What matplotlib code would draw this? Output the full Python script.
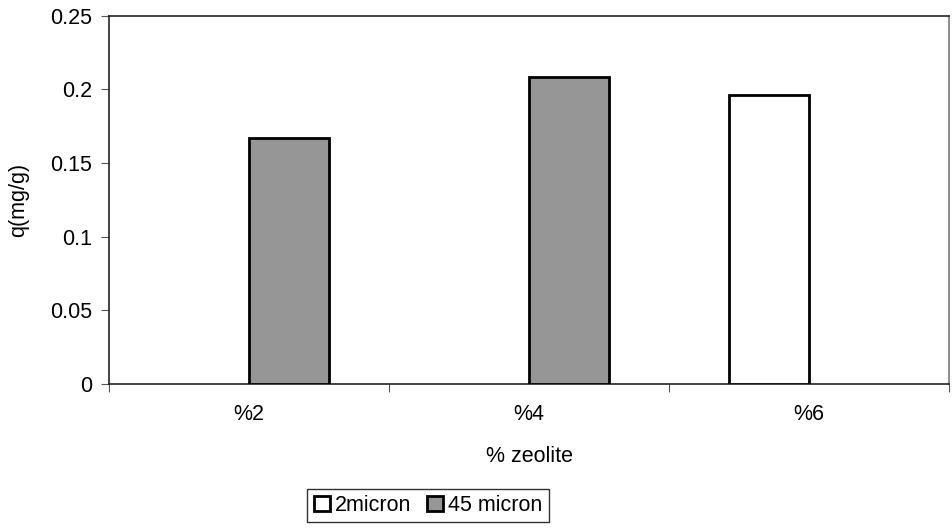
import numpy as np
import matplotlib.pyplot as plt
from matplotlib.patches import Patch

plt.rcParams['font.family'] = ['Liberation Sans', 'DejaVu Sans']

# 데이터
categories = ['%2', '%4', '%6']
series_names = ['2micron', '45 micron']
q_2micron = [0, 0, 0.1963]
q_45micron = [0.1668, 0.2087, 0]
series_colors = ['white', '#969696']

FS = 15.5

fig = plt.figure(figsize=(9.53, 5.29), dpi=100)
ax = fig.add_axes([0.1144, 0.275, 0.8814, 0.6948])

x = np.arange(len(categories))
w = 80 / 280  # 막대 폭 (gap width 150%)

for vals, off, col in [(q_2micron, -w / 2, series_colors[0]),
                       (q_45micron, w / 2, series_colors[1])]:
    xs = [xi + off for xi, v in zip(x, vals) if v > 0]
    hs = [v for v in vals if v > 0]
    ax.bar(xs, hs, width=w, color=col, edgecolor='black', linewidth=2, zorder=3)

ax.set_xlim(-0.5, len(categories) - 0.5)
ax.set_ylim(0, 0.25)

# 축 설정
ax.set_yticks([0, 0.05, 0.1, 0.15, 0.2, 0.25])
ax.set_yticklabels(['0', '0.05', '0.1', '0.15', '0.2', '0.25'])
ax.set_xticks(np.arange(-0.5, len(categories)), minor=False)
ax.set_xticklabels([])
ax.set_xticks(x, minor=True)
ax.set_xticklabels(categories, minor=True)
ax.tick_params(axis='x', which='minor', length=0, pad=15, labelsize=FS)
ax.tick_params(axis='x', which='major', length=6, direction='out', color='#555555')
ax.tick_params(axis='y', length=6, direction='out', color='#555555', labelsize=FS, pad=6)

for s in ax.spines.values():
    s.set_linewidth(1.2)
    s.set_color('#222222')
ax.spines['right'].set_color('#777777')

ax.set_xlabel('% zeolite', fontsize=FS, labelpad=15)
ax.set_ylabel('q(mg/g)', fontsize=FS, labelpad=15)

# 범례
handles = [Patch(facecolor=c, edgecolor='black', linewidth=2) for c in series_colors]
leg = fig.legend(handles, series_names, loc='center', bbox_to_anchor=(428 / 953, 1 - 505.5 / 529),
                 ncol=2, fontsize=FS, frameon=True, fancybox=False, edgecolor='black',
                 handlelength=0.75, handleheight=0.75, handletextpad=0.25, columnspacing=0.7,
                 borderpad=0.3, borderaxespad=0)
leg.get_frame().set_linewidth(1.0)

plt.savefig('out.png', dpi=100)
